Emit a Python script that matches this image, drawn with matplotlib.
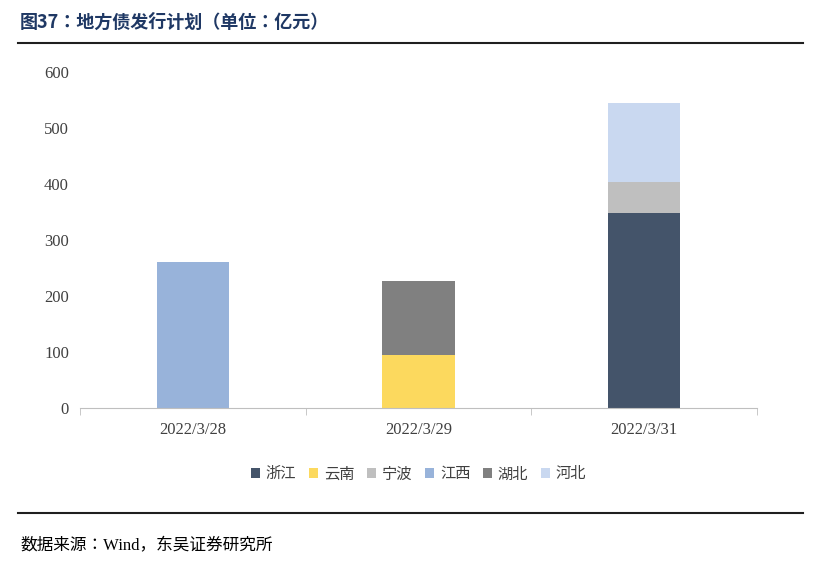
import matplotlib
matplotlib.use("Agg")
import matplotlib.pyplot as plt
from matplotlib import font_manager as fm
import numpy as np

categories = ["2022/3/28", "2022/3/29", "2022/3/31"]
series_names = ["浙江", "云南", "宁波", "江西", "湖北", "河北"]
zhejiang = [0, 0, 348]
yunnan = [0, 95, 0]
ningbo = [0, 0, 56]
jiangxi = [261, 0, 0]
hubei = [0, 132, 0]
hebei = [0, 0, 141]
yticks = [0, 100, 200, 300, 400, 500, 600]

colors = ["#44546A", "#FCD95E", "#BFBFBF", "#98B3DA", "#808080", "#C9D8F0"]
series = [zhejiang, yunnan, ningbo, jiangxi, hubei, hebei]

cjk = None
for f in fm.fontManager.ttflist:
    if "CJK" in f.name and ("SC" in f.name or cjk is None):
        cjk = f.name
        if "SC" in f.name:
            break
if cjk is None:
    import glob
    files = glob.glob("/usr/share/fonts/**/*CJK*", recursive=True)
    for p in files:
        fm.fontManager.addfont(p)
    cands = [f.name for f in fm.fontManager.ttflist if "CJK" in f.name]
    cjk = next((c for c in cands if "SC" in c), cands[0] if cands else "DejaVu Sans")
serif = "Liberation Serif"

fig = plt.figure(figsize=(8.15, 5.72), dpi=100)
ax = fig.add_axes([80/815, 1-408/572, 677/815, 336/572])
x = np.arange(len(categories))
bottom = np.zeros(len(categories))
for name, vals, c in zip(series_names, series, colors):
    ax.bar(x, vals, 0.32, bottom=bottom, color=c, label=name)
    bottom += np.array(vals)

ax.set_xlim(-0.5, 2.5)
ax.set_ylim(0, 600)
ax.set_yticks(yticks)
ax.set_yticklabels([str(v) for v in yticks], fontfamily=serif, fontsize=12, color="#404040")
ax.set_xticks(x)
ax.set_xticklabels(categories, fontfamily=serif, fontsize=12, color="#404040")
ax.set_xticks([-0.5, 0.5, 1.5, 2.5], minor=True)
ax.tick_params(axis="x", which="major", length=0, pad=10)
ax.tick_params(axis="x", which="minor", length=5, color="#BFBFBF")
ax.tick_params(axis="y", length=0, pad=8)
for s in ["top", "right", "left"]:
    ax.spines[s].set_visible(False)
ax.spines["bottom"].set_color("#BFBFBF")

leg = ax.legend(loc="upper center", bbox_to_anchor=(0.5, -0.13), ncol=6, frameon=False,
                prop={"family": cjk, "size": 11}, handlelength=0.6, handleheight=0.6,
                columnspacing=0.8, handletextpad=0.4)
for t in leg.get_texts():
    t.set_color("#404040")

fig.text(20/815, 1-22/572, "图37：地方债发行计划（单位：亿元）", fontfamily=cjk, fontsize=13,
         fontweight="bold", color="#1F3864", va="center")
fig.add_artist(plt.Line2D([18/815, 803/815], [1-43/572]*2, color="#1F1F1F", lw=1.5))
fig.add_artist(plt.Line2D([18/815, 803/815], [1-513/572]*2, color="#1F1F1F", lw=1.5))
fig.text(20/815, 1-546/572, "数据来源：Wind，东吴证券研究所", fontfamily=[serif, cjk], fontsize=12,
         color="#000000", va="center")

fig.savefig("out.png", dpi=100)
